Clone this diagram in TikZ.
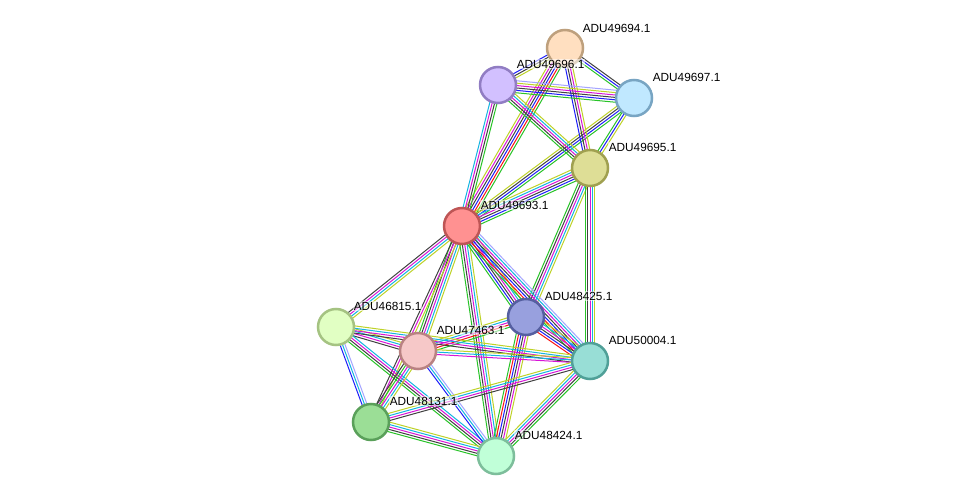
\documentclass[tikz,border=0pt]{standalone}
\usepackage{fontspec}
\setmainfont{Liberation Sans}
\usepackage{tikz}
\usetikzlibrary{calc,backgrounds}

% evidence colours
\definecolor{sgreen}{RGB}{40,195,40}
\definecolor{sred}{RGB}{250,20,20}
\definecolor{sblue}{RGB}{30,30,250}
\definecolor{sblack}{RGB}{65,65,65}
\definecolor{smag}{RGB}{215,20,215}
\definecolor{scyan}{RGB}{20,180,225}
\definecolor{syel}{RGB}{190,210,40}
\definecolor{slav}{RGB}{165,165,255}

% one bundle of coloured lines between two proteins
\newcommand{\bundle}[3]{%
  \xdef\nlines{0}%
  \foreach \c in {#3}{\xdef\nlines{\the\numexpr\nlines+1\relax}}%
  \foreach \c [count=\i] in {#3}{%
    \pgfmathsetmacro{\off}{(\i-(\nlines+1)/2)*2.4}%
    \draw[link,\c] ($(#1.center)!\off pt!90:(#2.center)$) -- ($(#2.center)!\off pt!-90:(#1.center)$);
  }}

\begin{document}
\begin{tikzpicture}[x=1pt,y=-1pt,
    link/.style={line width=1pt},
    prot/.style={circle,minimum size=36pt,inner sep=0pt,line width=2.5pt},
    lbl/.style={anchor=west,inner sep=0.6pt,fill=white,fill opacity=0.55,text opacity=1,
                font=\fontsize{11.8}{13}\selectfont}]
  \useasboundingbox (0,0) rectangle (976,502);

  \node[prot,fill={rgb,255:red,255;green,223;blue,192},draw={rgb,255:red,190;green,160;blue,125}] (p94) at (565,48) {};
  \node[prot,fill={rgb,255:red,210;green,192;blue,255},draw={rgb,255:red,145;green,125;blue,195}] (p96) at (498,85) {};
  \node[prot,fill={rgb,255:red,192;green,232;blue,255},draw={rgb,255:red,120;green,165;blue,195}] (p97) at (634,98) {};
  \node[prot,fill={rgb,255:red,222;green,222;blue,150},draw={rgb,255:red,160;green,160;blue,80}] (p95) at (590,168) {};
  \node[prot,fill={rgb,255:red,255;green,145;blue,145},draw={rgb,255:red,190;green,85;blue,85}] (p93) at (462,226) {};
  \node[prot,fill={rgb,255:red,225;green,255;blue,195},draw={rgb,255:red,165;green,195;blue,130}] (p15) at (336,327) {};
  \node[prot,fill={rgb,255:red,246;green,200;blue,200},draw={rgb,255:red,185;green,130;blue,130}] (p63) at (418,351) {};
  \node[prot,fill={rgb,255:red,152;green,160;blue,222},draw={rgb,255:red,85;green,95;blue,160}] (p25) at (526,317) {};
  \node[prot,fill={rgb,255:red,152;green,222;blue,214},draw={rgb,255:red,80;green,160;blue,152}] (p04) at (590,361) {};
  \node[prot,fill={rgb,255:red,155;green,222;blue,150},draw={rgb,255:red,90;green,160;blue,90}] (p31) at (371,422) {};
  \node[prot,fill={rgb,255:red,192;green,255;blue,216},draw={rgb,255:red,125;green,190;blue,155}] (p24) at (496,456) {};

  \node[lbl] (t94) at ($(p94)+(17,-20)$) {ADU49694.1};
  \node[lbl] (t96) at ($(p96)+(18,-21)$) {ADU49696.1};
  \node[lbl] (t97) at ($(p97)+(18,-21)$) {ADU49697.1};
  \node[lbl] (t95) at ($(p95)+(18,-21)$) {ADU49695.1};
  \node[lbl] (t93) at ($(p93)+(18,-21)$) {ADU49693.1};
  \node[lbl] (t15) at ($(p15)+(17,-21)$) {ADU46815.1};
  \node[lbl] (t63) at ($(p63)+(18,-21)$) {ADU47463.1};
  \node[lbl] (t25) at ($(p25)+(18,-21)$) {ADU48425.1};
  \node[lbl] (t04) at ($(p04)+(18,-21)$) {ADU50004.1};
  \node[lbl] (t31) at ($(p31)+(18,-21)$) {ADU48131.1};
  \node[lbl] (t24) at ($(p24)+(18,-21)$) {ADU48424.1};

  \begin{pgfonlayer}{background}
    \fill[white] (0,0) rectangle (976,502);
    \bundle{p93}{p94}{sgreen,sred,sblue,sblack,smag,syel}
    \bundle{p93}{p96}{sgreen,sblack,smag,scyan}
    \bundle{p93}{p97}{sgreen,sblue,sblack,syel}
    \bundle{p93}{p95}{sgreen,sblue,sblack,smag,scyan,syel}
    \bundle{p94}{p96}{sblue,sblack,syel}
    \bundle{p94}{p97}{sgreen,sblue,sblack}
    \bundle{p94}{p95}{sblue,sblack,smag,syel}
    \bundle{p96}{p97}{sgreen,sblue,sblack,smag,syel,slav}
    \bundle{p96}{p95}{sgreen,sblack,smag,scyan,syel}
    \bundle{p97}{p95}{sgreen,sblue,syel}
    \bundle{p95}{p25}{sgreen,sblack,smag,scyan,syel}
    \bundle{p95}{p04}{sgreen,sblack,smag,scyan,syel}
    \bundle{p93}{p15}{sblack,smag,scyan,syel}
    \bundle{p93}{p63}{sgreen,sblack,smag,scyan,syel}
    \bundle{p93}{p31}{sblack,smag,syel}
    \bundle{p93}{p24}{sgreen,sblack,smag,scyan,syel}
    \bundle{p93}{p25}{sgreen,sblue,sblack,smag,scyan,syel}
    \bundle{p93}{p04}{sgreen,sred,sblue,sblack,smag,scyan,slav}
    \bundle{p63}{p25}{sgreen,sred,smag,scyan,syel}
    \bundle{p25}{p04}{sred,sblue,sblack,smag,scyan,syel}
    \bundle{p25}{p24}{sgreen,sred,sblue,sblack,smag,syel}
    \bundle{p15}{p63}{sblack,smag,scyan,syel}
    \bundle{p15}{p04}{sblack,smag,scyan,syel}
    \bundle{p15}{p31}{sblue,scyan,slav}
    \bundle{p15}{p24}{sgreen,sblack,smag,scyan}
    \bundle{p63}{p31}{sblack,sgreen,smag,scyan,syel}
    \bundle{p63}{p24}{sblue,scyan,slav}
    \bundle{p63}{p04}{smag,scyan,syel}
    \bundle{p31}{p24}{sgreen,sblack,smag,scyan,syel}
    \bundle{p31}{p04}{sblack,smag,scyan,syel}
    \bundle{p24}{p04}{sgreen,sblack,smag,scyan,syel}
  \end{pgfonlayer}
\end{tikzpicture}
\end{document}
